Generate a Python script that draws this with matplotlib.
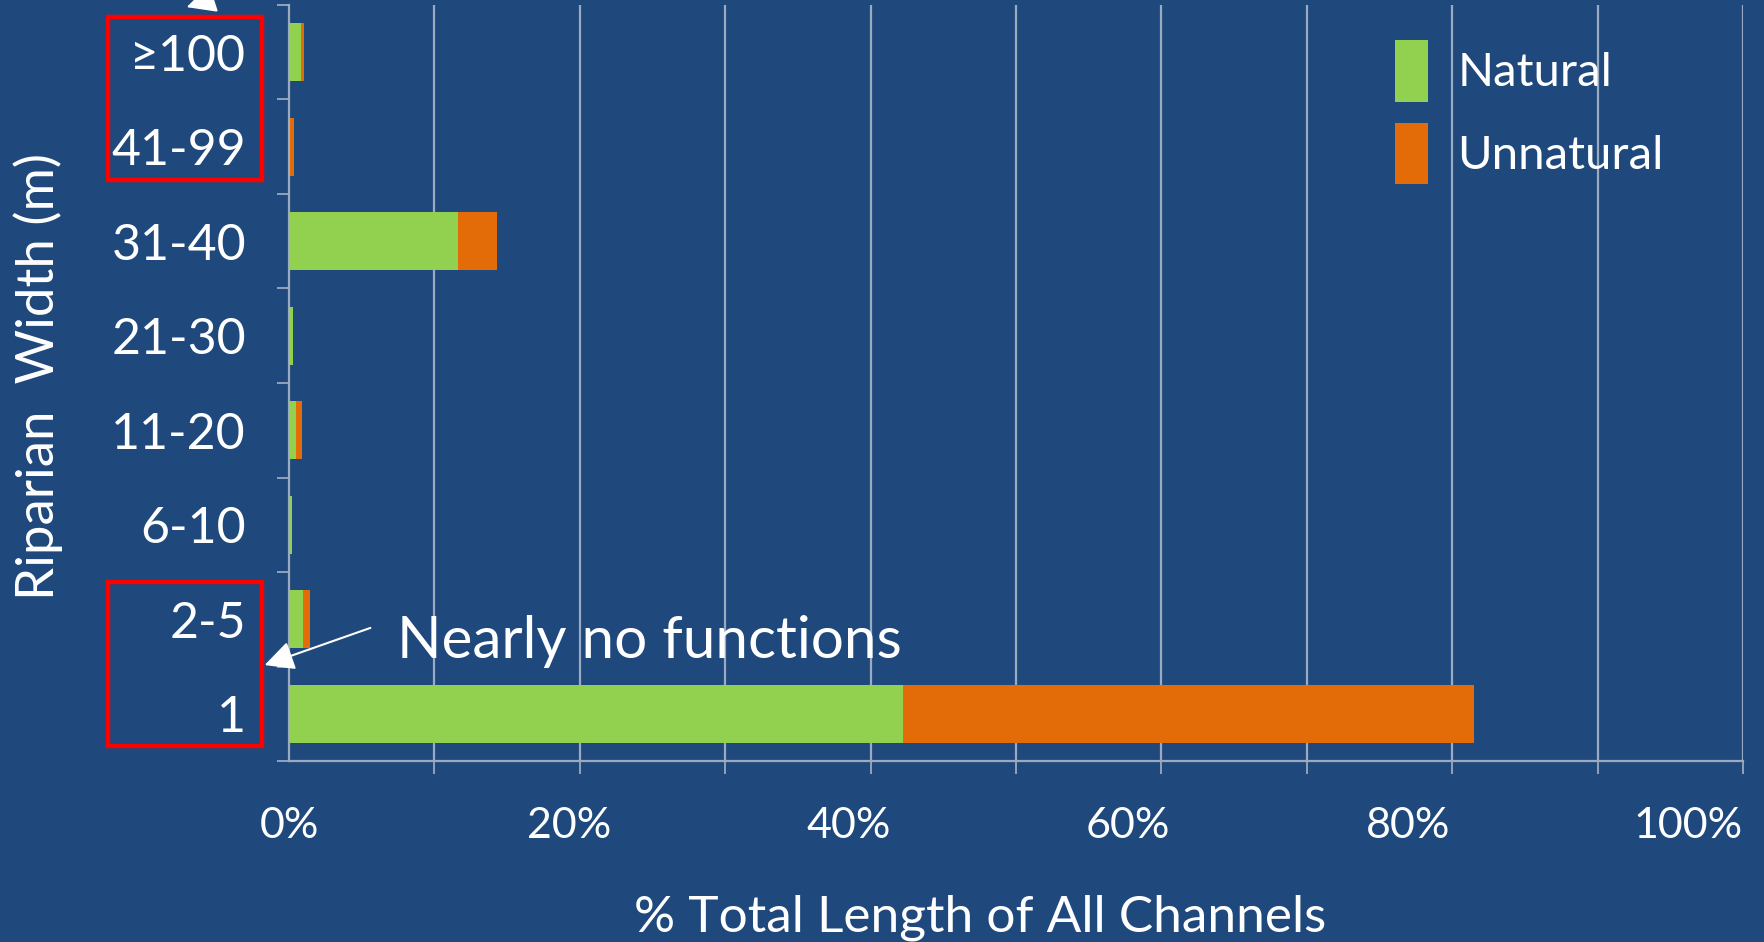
import numpy as np
import matplotlib
matplotlib.use('Agg')
from matplotlib import pyplot as plt
from matplotlib.patches import Rectangle
from matplotlib.ticker import FixedLocator

# riparian width classes, top to bottom as in the chart
widths = ['\u2265100', '41-99', '31-40', '21-30', '11-20', '6-10', '2-5', '1']
natural = [0.85, 0.10, 11.6, 0.28, 0.50, 0.18, 0.96, 42.2]
unnatural = [0.16, 0.25, 2.7, 0.0, 0.39, 0.0, 0.50, 39.3]
xtick_vals = [0, 20, 40, 60, 80, 100]
xtick_labels = ['0%', '20%', '40%', '60%', '80%', '100%']
grid_vals = [0, 10, 20, 30, 40, 50, 60, 70, 80, 90, 100]

bg = '#1F497D'
green = '#92D050'
orange = '#E36C09'
grid_c = '#9AAAC0'

plt.rcParams['font.family'] = ['Lato', 'DejaVu Sans']

W, H = 1764, 942
fig = plt.figure(figsize=(W/100, H/100), dpi=100, facecolor=bg)
ax = fig.add_axes([289/W, 181/H, (1743-289)/W, (761-5)/H], facecolor=bg)

y = np.arange(len(widths))[::-1]
ax.barh(y, natural, height=0.61, color=green, label='Natural', zorder=3)
ax.barh(y, unnatural, left=natural, height=0.61, color=orange, label='Unnatural', zorder=3)

# gridlines + tick marks every 10 %, labels every 20 %
# (the labels in the original drift a little left of their ticks)
ax.xaxis.set_minor_locator(FixedLocator(grid_vals))
ax.set_xticks([v*0.962 for v in xtick_vals])
ax.set_xticklabels(xtick_labels)
ax.grid(axis='x', which='minor', color=grid_c, lw=1.6, zorder=0)
ax.tick_params(axis='x', which='minor', direction='out', length=9, width=1.3, color=grid_c)
ax.tick_params(axis='x', which='major', length=0, labelcolor='white', labelsize=31, pad=33)

ax.set_yticks(y)
ax.set_yticklabels(widths)
ax.yaxis.set_minor_locator(FixedLocator(np.arange(-0.5, len(widths), 1.0)))
ax.tick_params(axis='y', which='major', length=0, labelcolor='white', labelsize=36, pad=31)
ax.tick_params(axis='y', which='minor', direction='out', length=9, width=1.3, color=grid_c)

ax.set_xlim(0, 100)
ax.set_ylim(-0.5, len(widths)-0.5)

for s in ['top', 'right']:
    ax.spines[s].set_visible(False)
for s in ['left', 'bottom']:
    ax.spines[s].set_color(grid_c)
    ax.spines[s].set_linewidth(1.6)

ax.set_xlabel('% Total Length of All Channels', fontsize=37, color='white', va='center')
ax.xaxis.set_label_coords((980-289)/1454, (761-918)/756)
ax.set_ylabel('Riparian  Width (m)', fontsize=38, color='white', va='center')
ax.yaxis.set_label_coords((38-289)/1454, (761-377)/756)

leg = ax.legend(loc='upper left', bbox_to_anchor=(1395/W, (H-40)/H),
                bbox_transform=fig.transFigure, frameon=False, fontsize=34,
                handlelength=0.7, handleheight=1.63, labelspacing=0.45,
                handletextpad=0.62, borderpad=0, borderaxespad=0)
for t in leg.get_texts():
    t.set_color('white')

# red highlight boxes around the label groups
for top, bot in [(17, 180), (582, 746)]:
    fig.add_artist(Rectangle((108/W, (H-bot)/H), 154/W, (bot-top)/H,
                             transform=fig.transFigure, fill=False,
                             edgecolor='#FF0000', lw=3.2))

fig.text(397/W, (H-658)/H, 'Nearly no functions', fontsize=42, color='white',
         ha='left', va='baseline')
ax.annotate('', xy=(262, H-666), xytext=(373, H-627), xycoords='figure pixels',
            textcoords='figure pixels',
            arrowprops=dict(arrowstyle='-|>', color='white', lw=1.5, mutation_scale=45))
ax.annotate('', xy=(184, H-8), xytext=(300, H+30), xycoords='figure pixels',
            textcoords='figure pixels', annotation_clip=False,
            arrowprops=dict(arrowstyle='-|>', color='white', lw=1.5, mutation_scale=45))

plt.savefig('out.png', dpi=100, facecolor=bg)
